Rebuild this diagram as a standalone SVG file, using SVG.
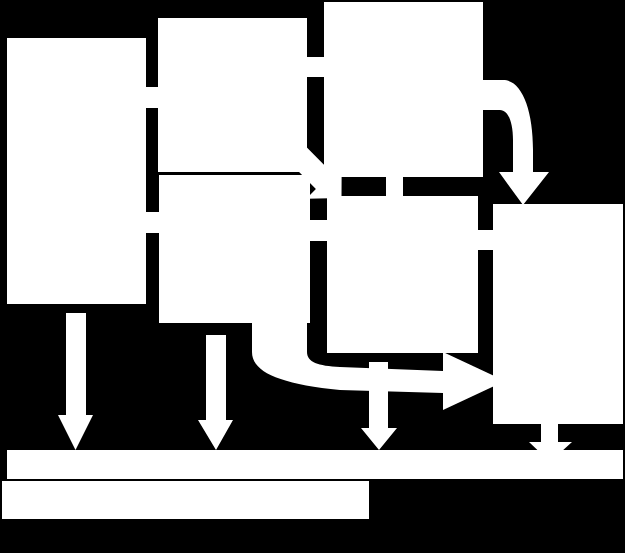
<svg xmlns="http://www.w3.org/2000/svg" width="625" height="553" viewBox="0 0 625 553">
  <style>
    .bg { fill: #000000; }
    .node { fill: #ffffff; stroke: none; }
    .conn { fill: #ffffff; stroke: none; }
  </style>
  <rect class="bg" x="0" y="0" width="625" height="553"/>
  <g id="connectors">
    <!-- straight links -->
    <rect class="conn" x="140" y="87" width="24" height="21"/>
    <rect class="conn" x="140" y="212" width="24" height="21"/>
    <rect class="conn" x="300" y="57" width="30" height="20"/>
    <rect class="conn" x="304" y="220" width="28" height="21"/>
    <rect class="conn" x="472" y="230" width="26" height="20"/>
    <rect class="conn" x="386" y="171" width="17" height="30"/>
    <!-- diagonal arrow B to E -->
    <polygon class="conn" points="288.1,128.4 271.9,144.6 315.9,189.1 306.3,198.7 341.5,198 341.7,163.3 332.1,172.9"/>
    <!-- curved arrow D to F -->
    <path class="conn" d="M478,80 H503 C522,80 533,110 533,150 V172 H549 L523,205 L499,172 H513 V140 C513,122 508,110 500,110 H478 Z"/>
    <!-- curved arrow C to F -->
    <path class="conn" d="M252,318 V352 C252,372 280,384 340,390 L443,393 V410 L505,381 L443,352 V371 L340,367 C318,366 307,362 307,352 V318 Z"/>
    <!-- down arrows to bar -->
    <polygon class="conn" points="66,313 86,313 86,415 93,415 75.5,450 58,415 66,415"/>
    <polygon class="conn" points="206,335 226,335 226,420 233,420 216,450 198,420 206,420"/>
    <polygon class="conn" points="369,362 388,362 388,428 397,428 379,450 361,428 369,428"/>
    <polygon class="conn" points="541,420 558,420 558,442 572,442 550,462 529,442 541,442"/>
  </g>
  <g id="nodeA"><rect class="node" x="7" y="38" width="139" height="266"/></g>
  <g id="nodeB"><rect class="node" x="158" y="18" width="149" height="154"/></g>
  <g id="nodeC"><rect class="node" x="159" y="175" width="151" height="148"/></g>
  <g id="nodeD"><rect class="node" x="324" y="2" width="159" height="175"/></g>
  <g id="nodeE"><rect class="node" x="327" y="196" width="151" height="157"/></g>
  <g id="nodeF"><rect class="node" x="493" y="204" width="130" height="220"/></g>
  <g id="bar1"><rect class="node" x="7" y="450" width="616" height="29"/></g>
  <g id="bar2"><rect class="node" x="2" y="481" width="367" height="38"/></g>
</svg>
